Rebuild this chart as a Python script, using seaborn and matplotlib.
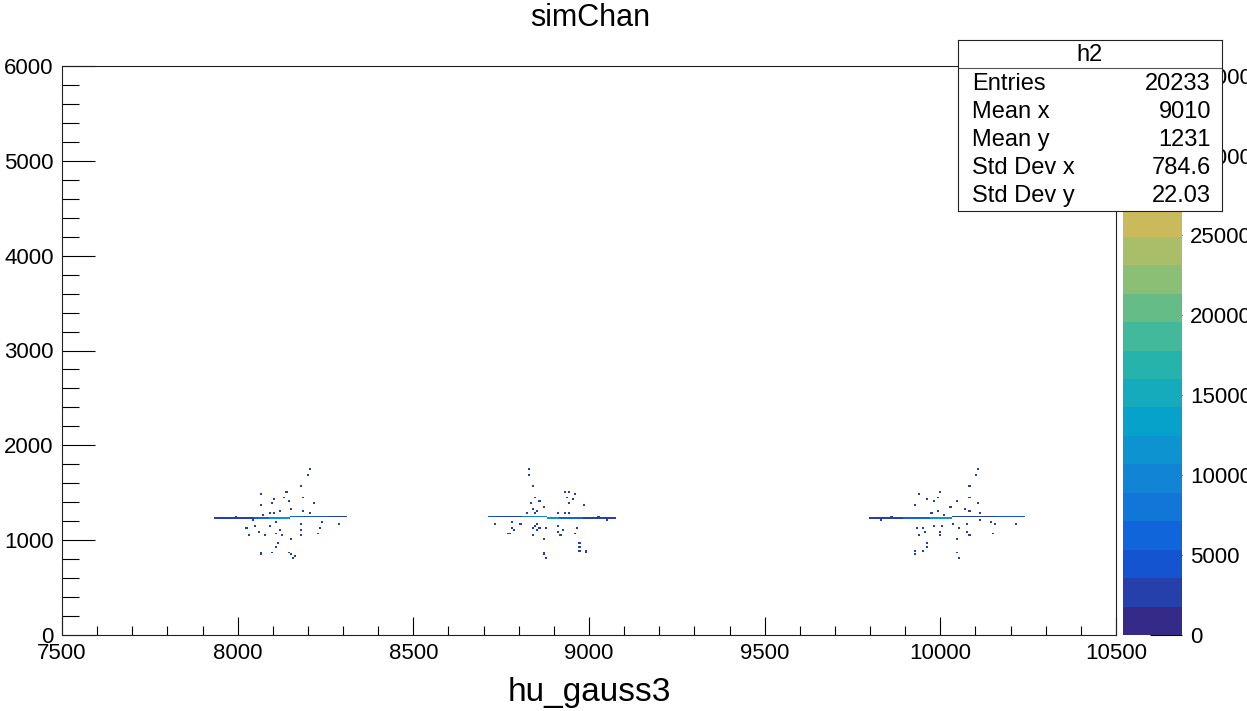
import numpy as np
import matplotlib
matplotlib.use("Agg")
import matplotlib.pyplot as plt
import seaborn as sns
from matplotlib.colors import LinearSegmentedColormap
from matplotlib.ticker import MultipleLocator

# scattered cells (x, y) for each of the three clusters
c1_x = [8202, 8200, 8183, 8064, 8141, 8100, 8098, 8130, 8145, 8189, 8214, 8064,
        8153, 8088, 8100, 8120, 8189, 8204, 8073, 7997, 8045, 8024, 8048, 8088,
        8111, 8120, 8124, 8107, 8079, 8058, 8033, 8181, 8183, 8181, 8149, 8234,
        8227, 8242, 8289, 8113, 8109, 8096, 8064, 8066, 8145, 8149, 8158, 8164]
c1_y = [1740, 1690, 1571, 1480, 1508, 1437, 1395, 1452, 1410, 1459, 1395, 1374,
        1339, 1290, 1290, 1311, 1311, 1297, 1262, 1241, 1205, 1121, 1142, 1157,
        1184, 1100, 1051, 1065, 1044, 1086, 1051, 1163, 1107, 1044, 1002, 1128,
        1072, 1199, 1170, 973, 925, 875, 875, 854, 875, 854, 805, 820]

c2_x = [8830, 8828, 8841, 8847, 8857, 8832, 8872, 8838, 8823, 8851, 8931, 8940,
        8934, 8963, 8957, 8940, 8982, 8912, 8933, 8944, 8732, 8783, 8802, 8781,
        8785, 8769, 8775, 8838, 8851, 8855, 8861, 8843, 8878, 8914, 8915, 8921,
        8927, 8872, 8961, 8965, 8971, 8971, 8974, 8990, 8990, 8868, 8868, 8876,
        9024, 9050, 8845, 8845]
c2_y = [1740, 1690, 1571, 1459, 1416, 1395, 1353, 1326, 1297, 1311, 1501, 1508,
        1452, 1480, 1431, 1395, 1367, 1290, 1290, 1297, 1170, 1199, 1178, 1121,
        1107, 1072, 1072, 1128, 1163, 1100, 1121, 1044, 1121, 1157, 1086, 1051,
        1100, 1002, 1072, 1121, 973, 939, 882, 882, 861, 875, 854, 805,
        1241, 1205, 1280, 1157]

c3_x = [10104, 10102, 10084, 9997, 9995, 9938, 9963, 9982, 9929, 10084, 10048,
        10107, 10028, 10068, 10081, 9972, 9993, 10008, 10113, 9862, 9829, 9934,
        9951, 9957, 9940, 9979, 10002, 9998, 10000, 10033, 10054, 10077, 10079,
        10084, 10044, 9960, 9963, 9953, 9925, 9927, 10044, 10052, 10141, 10153,
        10151, 10215, 10110]
c3_y = [1740, 1690, 1571, 1508, 1459, 1480, 1437, 1402, 1374, 1459, 1410,
        1395, 1353, 1332, 1311, 1290, 1311, 1269, 1297, 1241, 1205, 1121,
        1128, 1086, 1051, 1157, 1157, 1093, 1051, 1163, 1121, 1163, 1093,
        1051, 1002, 973, 925, 882, 882, 854, 875, 812, 1192, 1170,
        1079, 1178, 1200]
dot_w = 2000

# dense bands along each cluster: start x, end x, y, content per cell
band_x0 = [7935, 8045, 8090, 8150, 8190, 8265,
           8712, 8740, 8810, 8880, 8915, 8985,
           9800, 9897, 9970, 10035, 10160]
band_x1 = [8045, 8090, 8150, 8190, 8265, 8312,
           8740, 8810, 8880, 8915, 8985, 9080,
           9897, 9970, 10035, 10160, 10245]
band_y = [1230, 1230, 1230, 1250, 1250, 1250,
          1250, 1250, 1250, 1230, 1230, 1230,
          1230, 1230, 1230, 1250, 1250]
band_w = [2500, 5500, 12000, 6000, 4500, 3000,
          4000, 3000, 9000, 12000, 7000, 2500,
          2500, 6000, 12000, 3000, 5000]

xbins, ybins = 500, 300
xlo, xhi, ylo, yhi = 7500, 10500, 0, 6000
zmax = 35600

stats_names = ["Entries", "Mean x", "Mean y", "Std Dev x", "Std Dev y"]
stats_vals = ["20233", "9010", "1231", "784.6", "22.03"]

# ROOT kBird palette, 20 contour levels
bird = LinearSegmentedColormap.from_list("bird", list(zip(
    [0.0, 0.125, 0.25, 0.375, 0.5, 0.625, 0.75, 0.875, 1.0],
    zip([0.2082, 0.0592, 0.0780, 0.0232, 0.1802, 0.5301, 0.8186, 0.9956, 0.9764],
        [0.1664, 0.3599, 0.5041, 0.6419, 0.7178, 0.7492, 0.7328, 0.7862, 0.9832],
        [0.5293, 0.8684, 0.8385, 0.7914, 0.6425, 0.4662, 0.3499, 0.1968, 0.0539]))),
    N=20)

# assemble entries: one per filled cell
bw = (xhi - xlo) / xbins
xs = list(c1_x) + list(c2_x) + list(c3_x)
ys = list(c1_y) + list(c2_y) + list(c3_y)
ws = [dot_w] * len(xs)
for x0, x1, y, w in zip(band_x0, band_x1, band_y, band_w):
    cells = np.arange(xlo + bw / 2, xhi, bw)
    cells = cells[(cells >= x0) & (cells < x1)]
    xs += list(cells)
    ys += [y] * len(cells)
    ws += [w] * len(cells)

sns.set_style("white")
plt.rcParams["font.family"] = ["Liberation Sans", "DejaVu Sans"]
plt.rcParams["text.color"] = "black"
plt.rcParams["axes.labelcolor"] = "black"
plt.rcParams["xtick.color"] = "black"
plt.rcParams["ytick.color"] = "black"

fig = plt.figure(figsize=(12.47, 7.11), dpi=100)
ax = fig.add_axes([62 / 1247, 76 / 711, 1054 / 1247, 569 / 711])
cax = fig.add_axes([1123 / 1247, 76 / 711, 59 / 1247, 569 / 711])

sns.histplot(x=xs, y=ys, weights=ws, bins=(xbins, ybins),
             binrange=((xlo, xhi), (ylo, yhi)), cmap=bird, vmin=0, vmax=zmax,
             cbar=True, cbar_ax=cax, ax=ax)

ax.set_xlim(xlo, xhi)
ax.set_ylim(ylo, yhi)
ax.xaxis.set_major_locator(MultipleLocator(500))
ax.xaxis.set_minor_locator(MultipleLocator(100))
ax.yaxis.set_major_locator(MultipleLocator(1000))
ax.yaxis.set_minor_locator(MultipleLocator(200))
ax.tick_params(axis="x", which="major", direction="in", length=13, width=0.8,
               labelsize=16, pad=6, top=False, bottom=True, colors="black")
ax.tick_params(axis="x", which="minor", direction="in", length=6.5, width=0.8,
               top=False, bottom=True, colors="black")
ax.tick_params(axis="y", which="major", direction="in", length=24, width=0.8,
               labelsize=16, pad=6, right=False, left=True, colors="black")
ax.tick_params(axis="y", which="minor", direction="in", length=12, width=0.8,
               right=False, left=True, colors="black")
for s in ax.spines.values():
    s.set_color("#222222")
    s.set_linewidth(0.8)
ax.set_ylabel("")
ax.set_xlabel("hu_gauss3", fontsize=24, color="black")
ax.xaxis.set_label_coords(0.5, -0.074)
ax.xaxis.label.set_va("top")

cbar = ax.collections[0].colorbar
cbar.set_ticks(range(0, 40000, 5000))
cbar.outline.set_visible(False)
cax.tick_params(axis="y", direction="in", length=23, width=0.8, labelsize=16,
                pad=6, right=True, left=False, colors="black")
cax.minorticks_off()

fig.text(590 / 1247, 1 - 18 / 711, "simChan", ha="center", va="center",
         fontsize=22, color="black")

# statistics box
sax = fig.add_axes([958 / 1247, 1 - 211 / 711, 264 / 1247, 171 / 711], zorder=10)
sax.set_xlim(0, 264)
sax.set_ylim(171, 0)
sax.set_xticks([])
sax.set_yticks([])
sax.set_facecolor("white")
for s in sax.spines.values():
    s.set_color("#222222")
    s.set_linewidth(0.8)
sax.axhline(28, color="#555555", lw=0.8)
sax.text(132, 15, "h2", ha="center", va="center", fontsize=17, color="black")
for i, (n, v) in enumerate(zip(stats_names, stats_vals)):
    sax.text(14, 44 + 28 * i, n, ha="left", va="center", fontsize=17, color="black")
    sax.text(253, 44 + 28 * i, v, ha="right", va="center", fontsize=17, color="black")

fig.savefig("out.png", dpi=100)
